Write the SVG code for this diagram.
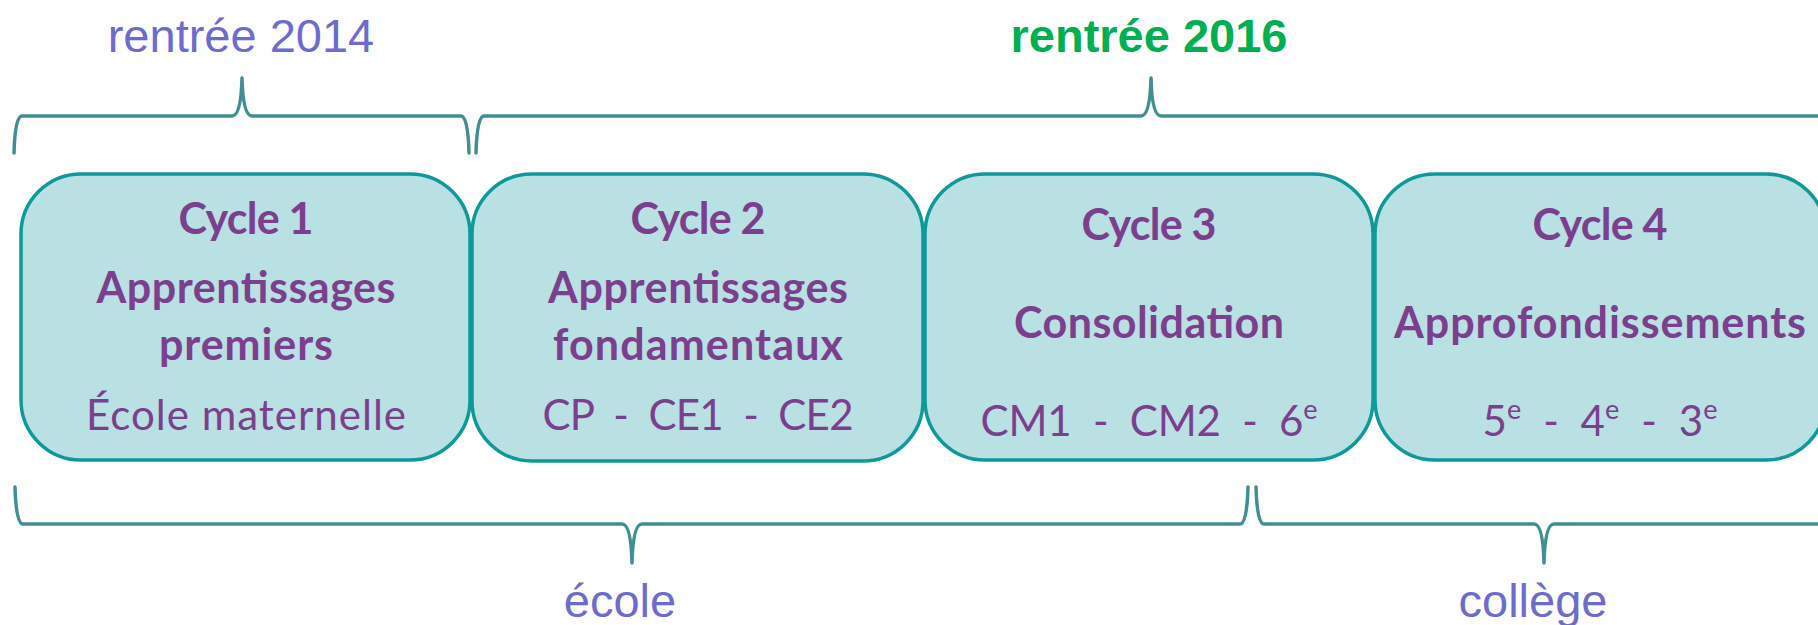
<svg xmlns="http://www.w3.org/2000/svg" width="1818" height="625" viewBox="0 0 1818 625">
<style>
.brace{fill:none;stroke:#3F8F94;stroke-width:3.5;stroke-linejoin:round;stroke-linecap:round}
.box{fill:#B9E0E2;stroke:#0E9A9A;stroke-width:3.5}
.t{font-family:Lato,"Open Sans",sans-serif;fill:#7B3F8E;text-anchor:middle;white-space:pre}
.b{font-weight:bold;font-size:43px}
.r{font-size:42px}
.lab{font-family:"Liberation Sans",Arial,sans-serif;font-size:47px;fill:#6B6BD0;text-anchor:middle}
.green{fill:#00B050;font-weight:bold}
</style>
<rect width="1818" height="625" fill="#FFFFFF"/>
<g id="labels">
<text class="lab" x="241" y="52">rentrée 2014</text>
<text class="lab green" x="1149" y="52">rentrée 2016</text>
<text class="lab" x="620" y="617">école</text>
<text class="lab" x="1533" y="617">collège</text>
</g>
<g id="connectors">
<path class="brace" d="M14,153 Q15,116 22,116 L232,116 Q241,116 242,78 Q243,116 252,116 L461,116 Q468,116 469,153"/>
<path class="brace" d="M476,153 Q477,116 484,116 L1141,116 Q1150,116 1151,78 Q1152,116 1161,116 L1830,116"/>
<path class="brace" d="M15,487 Q16,524 23,524 L622,524 Q631,524 632,563 Q633,524 642,524 L1240,524 Q1247,524 1248,487"/>
<path class="brace" d="M1256,487 Q1257,524 1264,524 L1534,524 Q1543,524 1544,563 Q1545,524 1554,524 L1830,524"/>
</g>
<g id="cycle1">
<rect class="box" x="21" y="174" width="449" height="286" rx="60" ry="60"/>
<text class="t b" x="246" y="234" textLength="135" lengthAdjust="spacing">Cycle 1</text>
<text class="t b" x="246" y="303" textLength="299" lengthAdjust="spacing">Apprentissages</text>
<text class="t b" x="246" y="360" textLength="174" lengthAdjust="spacing">premiers</text>
<text class="t r" x="246" y="430" textLength="320" lengthAdjust="spacing">École maternelle</text>
</g>
<g id="cycle2">
<rect class="box" x="472" y="174" width="451" height="287" rx="60" ry="60"/>
<text class="t b" x="698" y="234" textLength="135" lengthAdjust="spacing">Cycle 2</text>
<text class="t b" x="698" y="303" textLength="300" lengthAdjust="spacing">Apprentissages</text>
<text class="t b" x="698" y="360" textLength="290" lengthAdjust="spacing">fondamentaux</text>
<text class="t r" x="698" y="430" textLength="311" lengthAdjust="spacing">CP  -  CE1  -  CE2</text>
</g>
<g id="cycle3">
<rect class="box" x="925" y="174" width="448" height="286" rx="60" ry="60"/>
<text class="t b" x="1149" y="240" textLength="135" lengthAdjust="spacing">Cycle 3</text>
<text class="t b" x="1149" y="338" textLength="270" lengthAdjust="spacing">Consolidation</text>
<text class="t r" x="1149" y="436" textLength="337" lengthAdjust="spacing">CM1  -  CM2  -  6<tspan font-size="27" dy="-17">e</tspan></text>
</g>
<g id="cycle4">
<rect class="box" x="1375" y="174" width="451" height="286" rx="60" ry="60"/>
<text class="t b" x="1600" y="240" textLength="135" lengthAdjust="spacing">Cycle 4</text>
<text class="t b" x="1600" y="338" textLength="412" lengthAdjust="spacing">Approfondissements</text>
<text class="t r" x="1600" y="436" textLength="235" lengthAdjust="spacing">5<tspan font-size="27" dy="-17">e</tspan><tspan dy="17">  -  4</tspan><tspan font-size="27" dy="-17">e</tspan><tspan dy="17">  -  3</tspan><tspan font-size="27" dy="-17">e</tspan></text>
</g>
</svg>
